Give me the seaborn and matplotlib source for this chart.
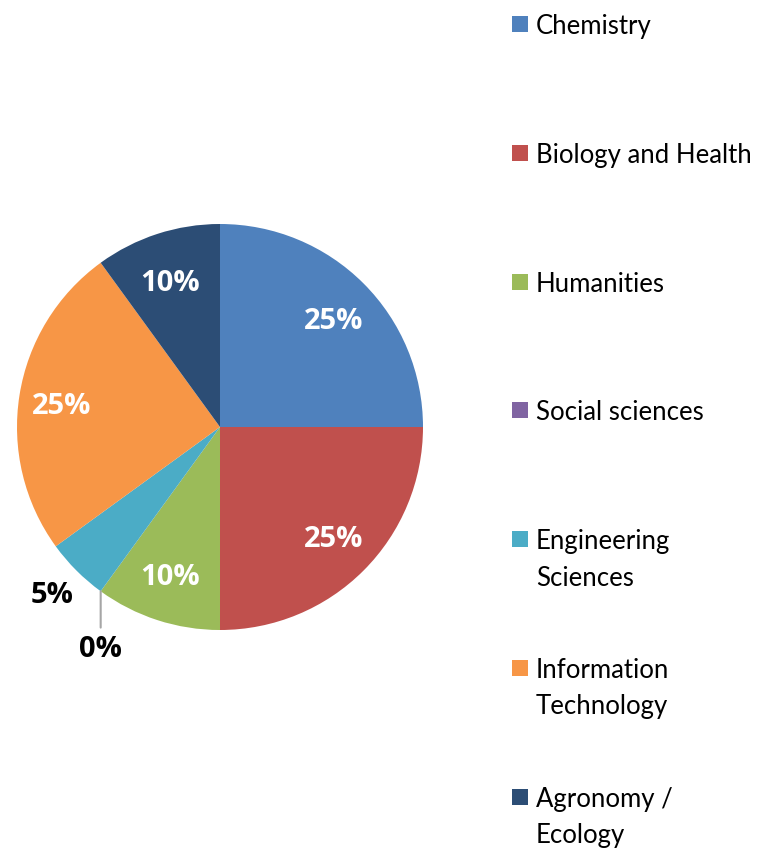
import matplotlib
matplotlib.use("Agg")
import matplotlib.pyplot as plt
from matplotlib.patches import Rectangle
import numpy as np
import seaborn as sns

categories = ["Chemistry", "Biology and Health", "Humanities", "Social sciences",
              "Engineering\nSciences", "Information\nTechnology", "Agronomy /\nEcology"]
shares = [25, 25, 10, 0, 5, 25, 10]
colors = ["#4F81BD", "#C0504D", "#9BBB59", "#8064A2", "#4BACC6", "#F79646", "#2C4D75"]

sns.set_theme(style="white")
plt.rcParams["font.family"] = ["Lato", "DejaVu Sans"]

W, H = 764, 850
fig = plt.figure(figsize=(W / 100, H / 100), dpi=100)

# pie area: centre (220, 427), radius 203 px
cx, cy, r = 220, 427, 203
ax = fig.add_axes([(cx - r) / W, (H - cy - r) / H, 2 * r / W, 2 * r / H])
wedges, _ = ax.pie(shares, colors=colors, startangle=90, counterclock=False,
                   radius=1, wedgeprops=dict(linewidth=0))
ax.set_xlim(-1, 1)
ax.set_ylim(-1, 1)
ax.set_aspect("equal")
ax.axis("off")

lbl = dict(ha="center", va="center_baseline", fontsize=21, fontweight="bold",
           family=["Open Sans", "DejaVu Sans"])
for w, v in zip(wedges, shares):
    mid = np.deg2rad((w.theta1 + w.theta2) / 2)
    dx, dy = np.cos(mid), np.sin(mid)
    txt = f"{v}%"
    if v >= 10:
        ax.text(0.79 * dx, 0.76 * dy, txt, color="white", **lbl)
    elif v > 0:
        ax.text(1.17 * dx, 1.15 * dy, txt, color="black", **lbl)
    else:
        ax.annotate(txt, xy=(dx, dy), xytext=(dx, dy - 0.27), color="black",
                    arrowprops=dict(arrowstyle="-", color="#A6A6A6", lw=1.5,
                                    shrinkA=3, shrinkB=0), **lbl)

# legend, drawn by hand so the marker sits on the first line
for i, (lab, col) in enumerate(zip(categories, colors)):
    yc = 24 + 128.8 * i
    fig.patches.append(Rectangle((512 / W, 1 - (yc + 8) / H), 16 / W, 16 / H,
                                 transform=fig.transFigure, facecolor=col,
                                 edgecolor="none"))
    fig.text(536 / W, 1 - (yc - 10) / H, lab, ha="left", va="top",
             fontsize=18.5, color="black", linespacing=1.57)

fig.savefig("out.png", dpi=100, facecolor="white")
